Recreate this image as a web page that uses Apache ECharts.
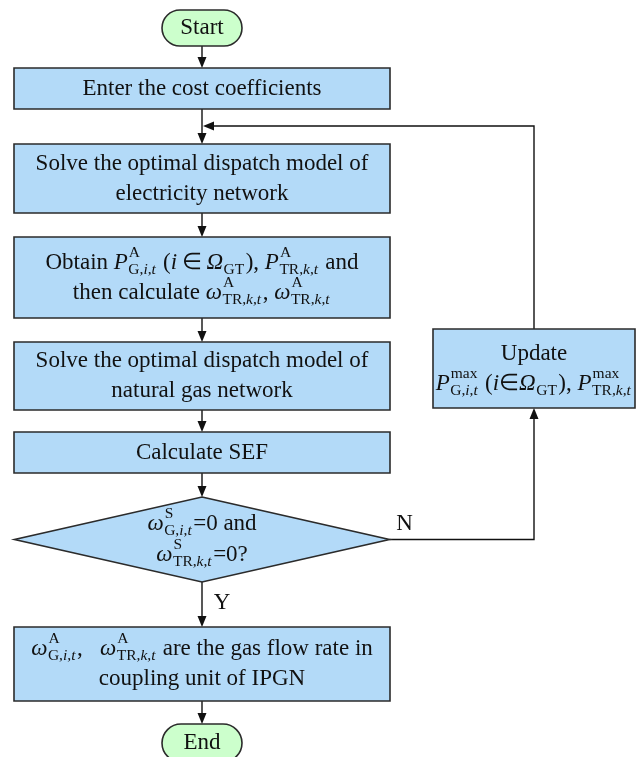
<!DOCTYPE html>
<html>
<head>
<meta charset="utf-8">
<script src="https://cdn.jsdelivr.net/npm/echarts@6/dist/echarts.min.js"></script>
<style>
html, body { margin: 0; padding: 0; background: #fff; }
#main { width: 638px; height: 757px; }
</style>
</head>
<body>
<div id="main"></div>
<script>
// step texts: one array of lines per node, '$..$' = italic, {sup, sub} = stacked script
const nodeTexts = [
    [['Start']],
    [['Enter the cost coefficients']],
    [['Solve the optimal dispatch model of'], ['electricity network']],
    [['Obtain $P$', { sup: 'A', sub: 'G,$i$,$t$' }, ' ($i$\u2009\u2208\u2009$\u03A9$', { sub: 'GT' }, '), $P$', { sup: 'A', sub: 'TR,$k$,$t$' }, ' and'],
     ['then calculate $\u03C9$', { sup: 'A', sub: 'TR,$k$,$t$' }, ', $\u03C9$', { sup: 'A', sub: 'TR,$k$,$t$' }]],
    [['Solve the optimal dispatch model of'], ['natural gas network']],
    [['Calculate SEF']],
    [['$\u03C9$', { sup: 'S', sub: 'G,$i$,$t$' }, '=0 and'], ['$\u03C9$', { sup: 'S', sub: 'TR,$k$,$t$' }, '=0?']],
    [['$\u03C9$', { sup: 'A', sub: 'G,$i$,$t$' }, ',   $\u03C9$', { sup: 'A', sub: 'TR,$k$,$t$' }, ' are the gas flow rate in'], ['coupling unit of IPGN']],
    [['End']],
    [['Update'], ['$P$', { sup: 'max', sub: 'G,$i$,$t$' }, ' ($i$\u2208$\u03A9$', { sub: 'GT' }, '), $P$', { sup: 'max', sub: 'TR,$k$,$t$' }]]
];
const nodeKinds = ['terminal', 'process', 'process', 'process', 'process', 'process', 'decision', 'process', 'terminal', 'process'];

// links between steps: [from, to]
const edges = [[0, 1], [1, 2], [2, 3], [3, 4], [4, 5], [5, 6], [6, 7], [7, 8], [6, 9], [9, 2]];
const edgeLabels = ['', '', '', '', '', '', 'Y', '', 'N', ''];

// layout (page units): centre x, centre y, width, height
const nodeBoxes = [
    [202, 28, 80, 36],
    [202, 88.5, 376, 41],
    [202, 178.5, 376, 69],
    [202, 277.5, 376, 81],
    [202, 376, 376, 68],
    [202, 452.5, 376, 41],
    [202, 539.5, 375, 85],
    [202, 664, 376, 74],
    [202, 743, 80, 38],
    [534, 368.5, 202, 79]
];
const loopY = 126;

const FONT = '"Liberation Serif", "Times New Roman", serif';
const F = 23, FS = 15.5;
const ctx = document.createElement('canvas').getContext('2d');

function measure(t, font) { ctx.font = font; return ctx.measureText(t).width; }
function fontOf(size, it) { return (it ? 'italic ' : '') + size + 'px ' + FONT; }
function runs(s, size, dy, x0, out) {
    let x = x0;
    s.split('$').forEach((t, i) => {
        if (!t) return;
        const f = fontOf(size, i % 2 === 1);
        out.push({ t: t, f: f, dx: x, dy: dy });
        x += measure(t, f);
    });
    return x - x0;
}
function layoutLine(tokens) {
    const out = [];
    let x = 0;
    tokens.forEach(tok => {
        if (typeof tok === 'string') {
            x += runs(tok, F, 0, x, out);
        } else {
            let w = 0;
            if (tok.sup) w = Math.max(w, runs(tok.sup, FS, -10, x + 1, out));
            if (tok.sub) w = Math.max(w, runs(tok.sub, FS, 7, x + 0.5, out));
            x += w + 2;
        }
    });
    return { out: out, w: x };
}

const boxOf = i => nodeBoxes[i];
const topOf = i => [boxOf(i)[0], boxOf(i)[1] - boxOf(i)[3] / 2];
const bottomOf = i => [boxOf(i)[0], boxOf(i)[1] + boxOf(i)[3] / 2];
const rightOf = i => [boxOf(i)[0] + boxOf(i)[2] / 2, boxOf(i)[1]];

function route(e) {
    const a = e[0], b = e[1];
    if (a === 6 && b === 9) return [rightOf(a), [boxOf(b)[0], boxOf(a)[1]], bottomOf(b)];
    if (a === 9 && b === 2) return [topOf(a), [boxOf(a)[0], loopY], [boxOf(b)[0] + 1, loopY]];
    return [bottomOf(a), topOf(b)];
}

function renderNode(params, api) {
    const i = api.value(4);
    const c = api.coord([api.value(0), api.value(1)]);
    const s = api.size([api.value(2), api.value(3)]);
    const w = Math.abs(s[0]), h = Math.abs(s[1]);
    const kind = nodeKinds[i];
    const stroke = { stroke: '#2b2b2b', lineWidth: 1.6 };
    let shape;
    if (kind === 'decision') {
        shape = {
            type: 'polygon',
            shape: { points: [[c[0], c[1] - h / 2], [c[0] + w / 2, c[1]], [c[0], c[1] + h / 2], [c[0] - w / 2, c[1]]] },
            style: Object.assign({ fill: '#b3daf8' }, stroke)
        };
    } else {
        shape = {
            type: 'rect',
            shape: { x: c[0] - w / 2, y: c[1] - h / 2, width: w, height: h, r: kind === 'terminal' ? h / 2 : 0 },
            style: Object.assign({ fill: kind === 'terminal' ? '#ccffcc' : '#b3daf8' }, stroke)
        };
    }
    const children = [shape];
    const lines = nodeTexts[i];
    const lh = kind === 'decision' ? 31 : 30;
    lines.forEach((ln, j) => {
        const y = c[1] + (j - (lines.length - 1) / 2) * lh;
        const L = layoutLine(ln);
        const x0 = c[0] - L.w / 2;
        L.out.forEach(r => {
            children.push({
                type: 'text',
                style: {
                    text: r.t, x: x0 + r.dx, y: y + r.dy, font: r.f, fill: '#111',
                    align: 'left', verticalAlign: 'middle', textAlign: 'left', textVerticalAlign: 'middle'
                }
            });
        });
    });
    return { type: 'group', children: children };
}

function renderEdge(params, api) {
    const k = api.value(2);
    const pts = route(edges[k]).map(p => api.coord(p));
    const n = pts.length;
    const end = pts[n - 1], prev = pts[n - 2];
    const dx = end[0] - prev[0], dy = end[1] - prev[1];
    const len = Math.sqrt(dx * dx + dy * dy);
    const ux = dx / len, uy = dy / len;
    const al = 11, aw = 4.5;
    const base = [end[0] - ux * al, end[1] - uy * al];
    const line = pts.slice(0, n - 1).concat([base]);
    const children = [
        { type: 'polyline', shape: { points: line }, style: { stroke: '#111', lineWidth: 1.4, fill: null } },
        {
            type: 'polygon',
            shape: { points: [end, [base[0] - uy * aw, base[1] + ux * aw], [base[0] + uy * aw, base[1] - ux * aw]] },
            style: { fill: '#111' }
        }
    ];
    const tag = edgeLabels[k];
    if (tag) {
        const p0 = pts[0];
        const pos = tag === 'N' ? [p0[0] + 15, p0[1] - 16] : [p0[0] + 20, p0[1] + 21];
        children.push({
            type: 'text',
            style: {
                text: tag, x: pos[0], y: pos[1], font: F + 'px ' + FONT, fill: '#111',
                align: 'center', verticalAlign: 'middle', textAlign: 'center', textVerticalAlign: 'middle'
            }
        });
    }
    return { type: 'group', children: children };
}

const myChart = echarts.init(document.getElementById('main'));
const option = {
    animation: false,
    grid: { left: 0, right: 0, top: 0, bottom: 0 },
    xAxis: { type: 'value', min: 0, max: 638, show: false },
    yAxis: { type: 'value', min: 0, max: 757, inverse: true, show: false },
    series: [
        {
            type: 'custom',
            silent: true,
            clip: false,
            renderItem: renderEdge,
            data: edges.map((e, i) => [boxOf(e[0])[0], boxOf(e[0])[1], i])
        },
        {
            type: 'custom',
            silent: true,
            clip: false,
            renderItem: renderNode,
            data: nodeBoxes.map((b, i) => [b[0], b[1], b[2], b[3], i])
        }
    ]
};
myChart.setOption(option);
window.addEventListener('resize', function () {
    myChart.resize();
});
</script>
</body>
</html>
